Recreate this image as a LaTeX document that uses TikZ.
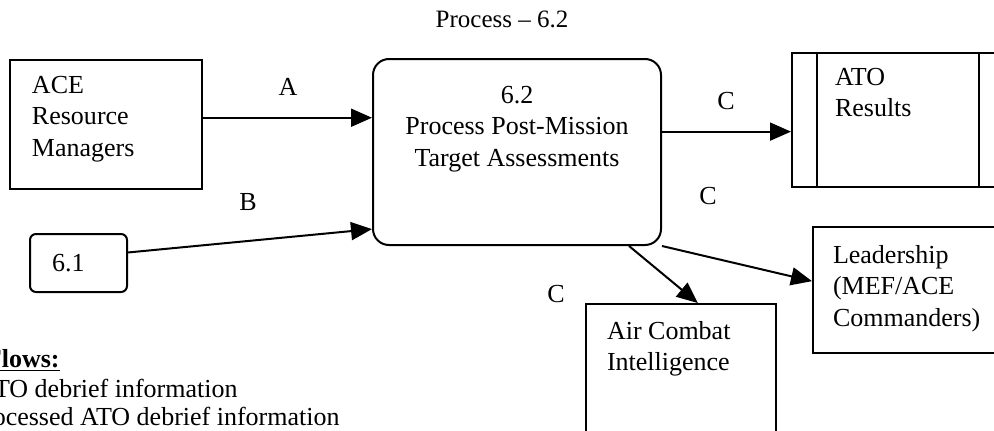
\documentclass[tikz,border=0pt]{standalone}
\usepackage{fontspec}
\setmainfont{Liberation Serif}
\usepackage{tikz}
\usetikzlibrary{arrows.meta,positioning,calc}
\definecolor{ink}{HTML}{000000}
\newcommand{\dfdfont}{\fontsize{13}{15.75}\selectfont}
\newcommand{\boxtext}[3]{\parbox[c][#1][t]{#2}{#3}}
\tikzset{
  extbox/.style={draw=ink,line width=1pt,font=\dfdfont},
  procbox/.style={draw=ink,line width=1pt,rounded corners=8pt,font=\dfdfont},
  storebox/.style={draw=ink,line width=1pt,font=\dfdfont},
  flowarr/.style={-{Triangle[length=10.5pt,width=9pt]},line width=1pt,color=ink},
  flowlbl/.style={font=\dfdfont,inner sep=1pt},
  legend/.style={font=\dfdfont,inner sep=0pt,anchor=base east}
}

\begin{document}
\begin{tikzpicture}[x=0.5pt,y=0.5pt,>=Latex]
  \useasboundingbox (0,0) rectangle (994,430);
  \clip (0,0) rectangle (994,430);

  \node[font=\fontsize{12.5}{15}\selectfont,anchor=base] (title) at (502,403) {Process -- 6.2};

  % process and its neighbours
  \node[procbox,inner xsep=8pt,inner ysep=13.5pt] (proc) at (517,278)
    {\boxtext{66pt}{128pt}{\centering 6.2\\Process Post-Mission\\Target Assessments}};
  \node[extbox,inner xsep=11pt,inner ysep=8pt] (res) at (106,305.5)
    {\boxtext{48.5pt}{74pt}{ACE\\Resource\\Managers}};
  \node[procbox,rounded corners=3pt,text width=26.5pt,align=left,inner xsep=11pt,
        minimum height=29pt] (prev) at (78.5,167) {6.1};
  \node[storebox,inner xsep=21.5pt,inner ysep=7.5pt] (store) at (898,310)
    {\boxtext{52pt}{63pt}{ATO\\Results}};
  \draw[line width=1pt] ([xshift=13pt]store.north west) -- ([xshift=13pt]store.south west);
  \draw[line width=1pt] ([xshift=-13pt]store.north east) -- ([xshift=-13pt]store.south east);
  \node[extbox,inner xsep=10pt,inner ysep=9pt] (lead) at (913,140)
    {\boxtext{45pt}{80pt}{Leadership\\(MEF/ACE\\Commanders)}};
  \node[extbox,inner xsep=10.5pt,inner ysep=8.5pt] (air) at (681,48)
    {\boxtext{61pt}{74pt}{Air Combat\\Intelligence}};

  % flows
  \draw[flowarr] (res.4.5) -- (res.4.5 -| proc.west);
  \draw[flowarr] (prev.12.8) -- (proc.208.4);
  \draw[flowarr] (proc.8.3) -- (proc.8.3 -| store.west);
  \draw[flowarr] (proc.south east) -- (lead.175.4);
  \draw[flowarr] (proc.-40.7) -- (air.78.4);

  \node[flowlbl] (lblA) at (288,343) {A};
  \node[flowlbl] (lblB) at (248,228) {B};
  \node[flowlbl] (lblC1) at (726,329) {C};
  \node[flowlbl] (lblC2) at (708,234) {C};
  \node[flowlbl] (lblC3) at (556,136) {C};

  % legend
  \node[legend] (flows) at (60,63) {\underline{\textbf{Flows:}}};
  \node[legend] (flowa) at (238,33) {ATO debrief information};
  \node[legend] (flowb) at (340,5) {Processed ATO debrief information};
\end{tikzpicture}
\end{document}
